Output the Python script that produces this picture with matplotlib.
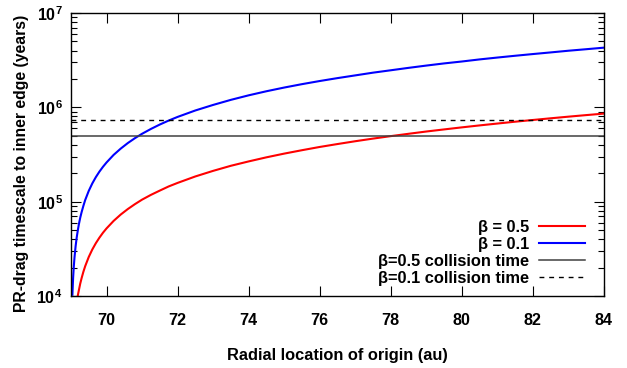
import numpy as np
import matplotlib
matplotlib.use("Agg")
import matplotlib.pyplot as plt
from matplotlib.ticker import FixedLocator, LogLocator, FuncFormatter, NullFormatter

plt.rcParams['font.family'] = ['Liberation Sans', 'DejaVu Sans']
plt.rcParams['mathtext.fontset'] = 'custom'
plt.rcParams['mathtext.rm'] = 'Liberation Sans'
plt.rcParams['mathtext.bf'] = 'Liberation Sans:bold'

# radial location of origin (au) and PR-drag timescale (years)
r_red = [69.19, 69.22, 69.26, 69.3, 69.35, 69.4, 69.5, 69.6, 69.7, 69.8, 69.9,
         70.0, 70.2, 70.4, 70.6, 70.8, 71.0, 71.25, 71.5, 71.75, 72.0, 72.5,
         73.0, 73.5, 74.0, 74.5, 75.0, 75.5, 76.0, 76.5, 77.0, 77.5, 78.0,
         78.5, 79.0, 79.5, 80.0, 80.5, 81.0, 81.5, 82.0, 82.5, 83.0, 83.5, 84.0]
t_red = [1.0e4, 1.14e4, 1.35e4, 1.55e4, 1.81e4, 2.07e4, 2.59e4, 3.11e4, 3.63e4,
         4.15e4, 4.68e4, 5.2e4, 6.25e4, 7.3e4, 8.35e4, 9.41e4, 1.05e5, 1.18e5,
         1.31e5, 1.45e5, 1.58e5, 1.85e5, 2.12e5, 2.4e5, 2.67e5, 2.95e5, 3.23e5,
         3.51e5, 3.8e5, 4.08e5, 4.37e5, 4.66e5, 4.95e5, 5.24e5, 5.54e5, 5.83e5,
         6.13e5, 6.43e5, 6.73e5, 7.04e5, 7.34e5, 7.65e5, 7.96e5, 8.27e5, 8.58e5]

r_blue = [69.04, 69.06, 69.08, 69.1, 69.13, 69.16, 69.19, 69.22, 69.26, 69.3,
          69.35, 69.4, 69.5, 69.6, 69.7, 69.8, 69.9, 70.0, 70.2, 70.4, 70.6,
          70.8, 71.0, 71.25, 71.5, 71.75, 72.0, 72.5, 73.0, 73.5, 74.0, 74.5,
          75.0, 75.5, 76.0, 76.5, 77.0, 77.5, 78.0, 78.5, 79.0, 79.5, 80.0,
          80.5, 81.0, 81.5, 82.0, 82.5, 83.0, 83.5, 84.0]
t_blue = [1.03e4, 1.55e4, 2.07e4, 2.58e4, 3.36e4, 4.14e4, 4.9e4, 5.7e4, 6.75e4,
          7.76e4, 9.05e4, 1.04e5, 1.3e5, 1.56e5, 1.82e5, 2.08e5, 2.34e5, 2.6e5,
          3.13e5, 3.65e5, 4.18e5, 4.71e5, 5.24e5, 5.9e5, 6.57e5, 7.24e5, 7.91e5,
          9.26e5, 1.06e6, 1.2e6, 1.34e6, 1.48e6, 1.62e6, 1.76e6, 1.9e6, 2.04e6,
          2.18e6, 2.33e6, 2.47e6, 2.62e6, 2.77e6, 2.92e6, 3.06e6, 3.22e6, 3.37e6,
          3.52e6, 3.67e6, 3.82e6, 3.98e6, 4.13e6, 4.29e6]

t_coll_05 = 5.0e5
t_coll_01 = 7.35e5

x_ticks = [70, 72, 74, 76, 78, 80, 82, 84]

fig = plt.figure(figsize=(6.27, 3.68), dpi=100)
ax = fig.add_axes([0.1132, 0.1957, 0.85, 0.769])

ax.plot(r_red, t_red, color='#ff0000', lw=1.5, label='β = 0.5')
ax.plot(r_blue, t_blue, color='#0000ff', lw=1.5, label='β = 0.1')
ax.axhline(t_coll_05, color='#404040', lw=1.1, label='β=0.5 collision time')
ax.axhline(t_coll_01, color='black', lw=1.0, ls=(0, (3.5, 3.5)),
           label='β=0.1 collision time')

ax.set_yscale('log')
ax.set_xlim(69.0, 84)
ax.set_ylim(1e4, 1e7)

ax.xaxis.set_major_locator(FixedLocator(x_ticks))
ax.yaxis.set_major_locator(LogLocator(base=10, numticks=10))
ax.yaxis.set_minor_locator(LogLocator(base=10, subs=np.arange(2, 10), numticks=10))
ax.yaxis.set_minor_formatter(NullFormatter())
ax.yaxis.set_major_formatter(FuncFormatter(
    lambda v, p: r'$\mathbf{10^{%d}}$' % int(round(np.log10(v)))))

ax.tick_params(which='both', direction='in', top=True, right=True)
ax.tick_params(which='major', length=7, width=0.8, labelsize=11.6)
ax.tick_params(axis='x', which='major', pad=12)
ax.tick_params(axis='y', which='major', pad=6)
ax.tick_params(which='minor', length=4, width=0.8)
for lab in ax.get_xticklabels():
    lab.set_fontweight('bold')
for s in ax.spines.values():
    s.set_linewidth(1.0)

ax.set_xlabel('Radial location of origin (au)', fontsize=11.8, fontweight='bold')
ax.xaxis.set_label_coords(0.5, -0.185)
ax.set_ylabel('PR-drag timescale to inner edge (years)', fontsize=11.3,
              fontweight='bold')
ax.yaxis.set_label_coords(-0.078, 0.468)

leg = ax.legend(loc='lower right', frameon=False, markerfirst=False,
                prop={'weight': 'bold', 'size': 11.8}, handlelength=2.8,
                handletextpad=0.6, labelspacing=0.13, borderpad=0,
                borderaxespad=0, bbox_to_anchor=(0.9644, 0.035))

fig.savefig('out.png', dpi=100)
